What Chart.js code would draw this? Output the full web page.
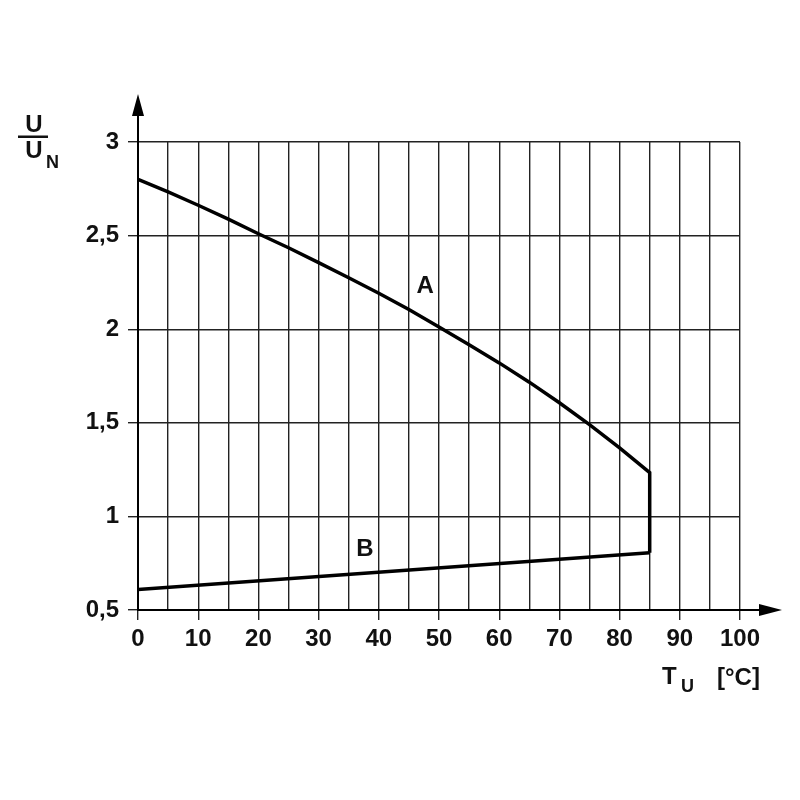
<!DOCTYPE html>
<html>
<head>
<meta charset="utf-8">
<script src="https://cdn.jsdelivr.net/npm/chart.js@4.4.1/dist/chart.umd.min.js"></script>
<style>
  html, body { margin: 0; padding: 0; background: #fff; }
  #wrap { width: 800px; height: 800px; }
</style>
</head>
<body>
<div id="wrap"><canvas id="chart" width="800" height="800"></canvas></div>
<script>
// curve A: ambient temperature vs U/UN, ends with the drop at 85 °C onto curve B
const tempA = [0, 5, 10, 15, 20, 25, 30, 35, 40, 45, 50, 55, 60, 65, 70, 75, 80, 85, 85];
const voltA = [2.80, 2.733, 2.662, 2.588, 2.51, 2.435, 2.356, 2.275, 2.192, 2.105, 2.012, 1.917, 1.82, 1.717, 1.607, 1.49, 1.366, 1.234, 0.806];
// curve B
const tempB = [0, 85];
const voltB = [0.61, 0.806];
// curve names and where they sit (data coords)
const curveNames = ['A', 'B'];
const nameTemp = [47.7, 37.7];
const nameVolt = [2.23, 0.826];

const FONT = '"Liberation Sans", Arial, Helvetica, sans-serif';
const INK = '#111';

const toPoints = (xs, ys) => xs.map((x, i) => ({ x: x, y: ys[i] }));

const decorations = {
  id: 'decorations',
  afterDraw(chart) {
    const { ctx, chartArea, scales } = chart;
    const xs = scales.x, ys = scales.y;
    const x0 = xs.getPixelForValue(0);
    const yb = ys.getPixelForValue(0.5);
    ctx.save();
    ctx.strokeStyle = '#000';
    ctx.fillStyle = '#000';
    ctx.lineWidth = 2;
    // y axis arrow
    ctx.beginPath();
    ctx.moveTo(x0, chartArea.top);
    ctx.lineTo(x0, 112);
    ctx.stroke();
    ctx.beginPath();
    ctx.moveTo(x0, 94);
    ctx.lineTo(x0 - 6, 116);
    ctx.lineTo(x0 + 6, 116);
    ctx.closePath();
    ctx.fill();
    // x axis arrow
    ctx.beginPath();
    ctx.moveTo(chartArea.right, yb);
    ctx.lineTo(762, yb);
    ctx.stroke();
    ctx.beginPath();
    ctx.moveTo(782, yb);
    ctx.lineTo(759, yb - 6);
    ctx.lineTo(759, yb + 6);
    ctx.closePath();
    ctx.fill();

    // curve names
    ctx.fillStyle = INK;
    ctx.font = 'bold 24px ' + FONT;
    ctx.textAlign = 'center';
    ctx.textBaseline = 'middle';
    curveNames.forEach((n, i) => {
      ctx.fillText(n, xs.getPixelForValue(nameTemp[i]), ys.getPixelForValue(nameVolt[i]));
    });

    // y axis title U / UN
    ctx.textBaseline = 'alphabetic';
    ctx.fillText('U', 34, 132);
    ctx.fillRect(18, 135.5, 30, 2.5);
    ctx.fillText('U', 34, 158);
    ctx.font = 'bold 18px ' + FONT;
    ctx.textAlign = 'left';
    ctx.fillText('N', 46, 168);

    // x axis title TU [°C]
    ctx.font = 'bold 24px ' + FONT;
    ctx.textAlign = 'left';
    ctx.fillText('T', 662, 684);
    ctx.font = 'bold 18px ' + FONT;
    ctx.fillText('U', 681, 692);
    ctx.font = 'bold 24px ' + FONT;
    ctx.fillText('[°C]', 717, 685);
    ctx.restore();
  }
};

new Chart(document.getElementById('chart'), {
  type: 'scatter',
  data: {
    datasets: [
      { label: 'A', data: toPoints(tempA, voltA), showLine: true, borderColor: '#000', borderWidth: 3.5, pointRadius: 0, tension: 0, fill: false },
      { label: 'B', data: toPoints(tempB, voltB), showLine: true, borderColor: '#000', borderWidth: 3.5, pointRadius: 0, tension: 0, fill: false }
    ]
  },
  options: {
    responsive: false,
    animation: false,
    events: [],
    layout: { padding: { top: 142, right: 60, left: 0, bottom: 0 } },
    plugins: { legend: { display: false }, tooltip: { enabled: false } },
    scales: {
      x: {
        type: 'linear', min: 0, max: 100,
        afterFit: s => { s.height = 190; },
        ticks: {
          stepSize: 5, autoSkip: false, maxRotation: 0, padding: 5,
          color: INK, font: { family: FONT, size: 24, weight: 'bold' },
          callback: v => (v % 10 === 0 ? String(v) : '')
        },
        grid: {
          color: '#222', lineWidth: 1.4, tickLength: 10,
          tickColor: c => (c.tick && c.tick.value % 10 === 0 ? '#222' : 'rgba(0,0,0,0)')
        },
        border: { display: true, color: '#000', width: 2 }
      },
      y: {
        type: 'linear', min: 0.5, max: 3,
        afterFit: s => { s.width = 138; },
        ticks: {
          stepSize: 0.5, padding: 9,
          color: INK, font: { family: FONT, size: 24, weight: 'bold' },
          callback: v => String(v).replace('.', ',')
        },
        grid: { color: '#222', lineWidth: 1.4, tickLength: 10, tickColor: '#222' },
        border: { display: true, color: '#000', width: 2 }
      }
    }
  },
  plugins: [decorations]
});
</script>
</body>
</html>
